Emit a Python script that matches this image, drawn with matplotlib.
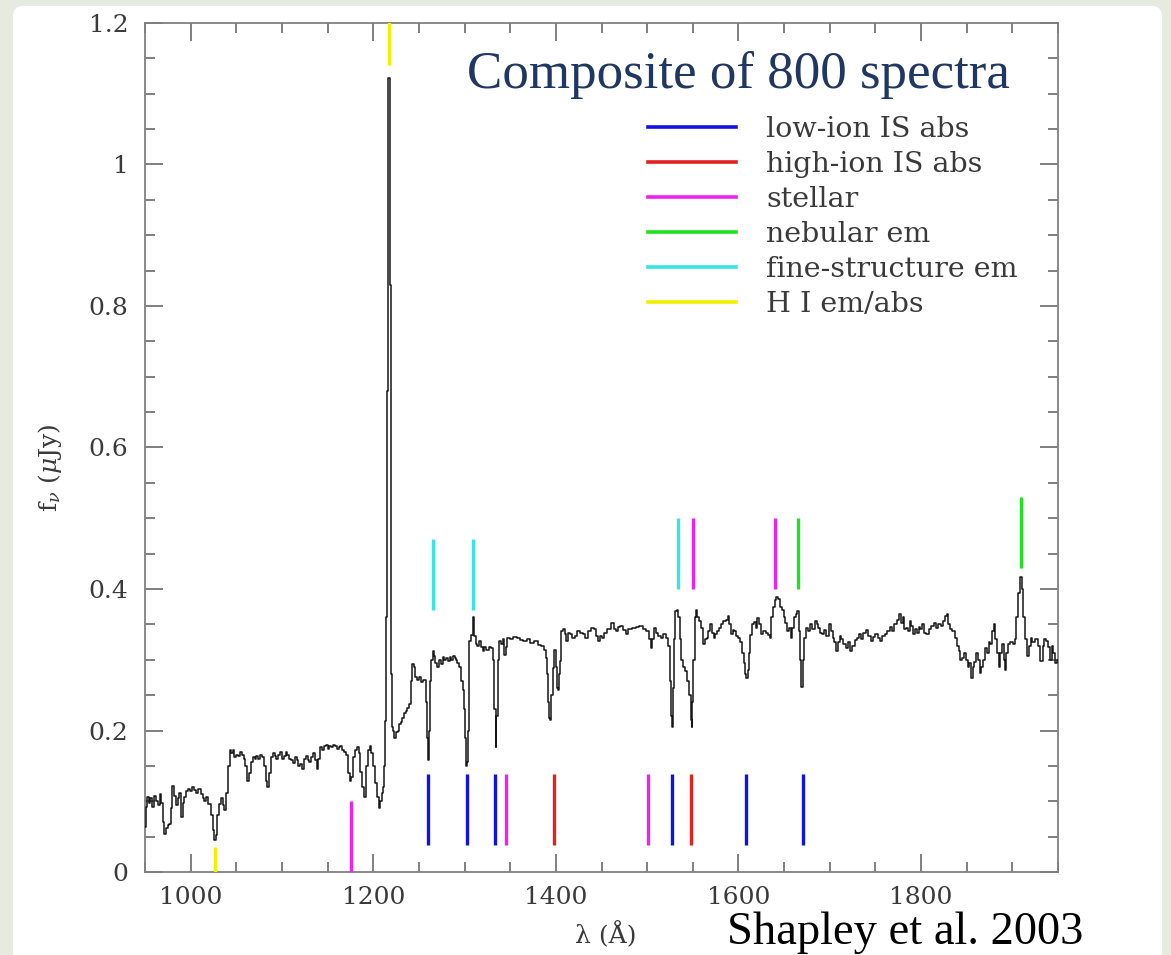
import matplotlib
matplotlib.use("Agg")
import matplotlib.pyplot as plt
from matplotlib.patches import FancyBboxPatch
from matplotlib.lines import Line2D
from matplotlib.ticker import MultipleLocator, FuncFormatter
from matplotlib.transforms import IdentityTransform

# ---------------------------------------------------------------------------
# Composite rest-frame UV spectrum (wavelength in Angstrom, f_nu in microJy)
# ---------------------------------------------------------------------------
lyman_side = [
    (950, 0.064), (951.5, 0.092), (953, 0.106), (955, 0.098), (957, 0.104),
    (959, 0.092), (961, 0.108), (963, 0.100), (965, 0.094), (967, 0.110),
    (968.5, 0.098), (970, 0.070), (972, 0.054), (974, 0.062), (976, 0.066),
    (977.5, 0.068), (979, 0.090), (981, 0.122), (983, 0.108), (984.7, 0.094),
    (986.5, 0.104), (988.3, 0.112), (990.2, 0.078), (992, 0.098), (994, 0.106),
    (995.6, 0.114), (998, 0.118), (1000, 0.114), (1003, 0.120), (1005, 0.116),
    (1007, 0.112), (1010, 0.118), (1012, 0.110), (1014, 0.104), (1015.7, 0.100),
    (1018, 0.106), (1021, 0.096), (1023, 0.080), (1025, 0.060), (1026.7, 0.045),
    (1028, 0.052), (1030, 0.080), (1032, 0.096), (1034, 0.104), (1036, 0.094),
    (1037.6, 0.087), (1040, 0.112), (1042, 0.150), (1043.5, 0.172),
]

forest = [
    (1045, 0.168), (1047, 0.172), (1049, 0.162), (1051, 0.166), (1053, 0.164),
    (1055, 0.170), (1057, 0.166), (1059, 0.160), (1061, 0.150), (1063, 0.128),
    (1065, 0.140), (1067, 0.156), (1069, 0.162), (1071, 0.160), (1073, 0.164),
    (1075, 0.160), (1077, 0.166), (1079, 0.162), (1081, 0.150), (1083, 0.128),
    (1085, 0.120), (1087, 0.140), (1089, 0.162), (1091, 0.168), (1093, 0.164),
    (1095, 0.160), (1097, 0.166), (1099, 0.170), (1101, 0.160), (1103, 0.164),
    (1105, 0.170), (1107, 0.166), (1109, 0.160), (1111, 0.158), (1113, 0.154),
    (1115, 0.162), (1117, 0.158), (1119, 0.150), (1121, 0.152), (1123, 0.146),
    (1125, 0.160), (1127, 0.164), (1129, 0.158), (1131, 0.156), (1133, 0.162),
    (1135, 0.168), (1137, 0.158), (1139, 0.146), (1141, 0.160), (1143, 0.176),
    (1145, 0.172), (1147, 0.178), (1149, 0.180), (1151, 0.174), (1153, 0.178),
    (1155, 0.176), (1157, 0.180), (1159, 0.178), (1161, 0.174), (1163, 0.176),
    (1165, 0.178), (1167, 0.172), (1169, 0.170), (1171, 0.166), (1173, 0.140),
    (1175, 0.128), (1177, 0.134), (1179, 0.162), (1181, 0.172), (1183, 0.176),
    (1185, 0.168), (1187, 0.142), (1189, 0.120), (1191, 0.106), (1193, 0.150),
    (1195, 0.172), (1197, 0.178), (1199, 0.168), (1201, 0.150), (1203, 0.126),
    (1205, 0.106), (1207, 0.090), (1208.5, 0.100), (1210, 0.112), (1211.5, 0.120),
]

lyman_alpha = [
    (1212.5, 0.150), (1213.5, 0.214), (1214.5, 0.360), (1215.5, 0.680),
    (1216.5, 1.122), (1218, 1.122), (1219, 0.830), (1220, 0.280), (1221, 0.205),
]

red_side_1 = [
    (1222, 0.200), (1223.8, 0.190), (1226, 0.198), (1228, 0.200), (1229.3, 0.209),
    (1231, 0.212), (1233, 0.218), (1235, 0.225), (1236.6, 0.228), (1238, 0.232),
    (1240.3, 0.238), (1242, 0.270), (1243.9, 0.294), (1245.5, 0.290), (1247, 0.276),
    (1249, 0.272), (1251, 0.276), (1253, 0.268), (1255, 0.272), (1256.7, 0.271),
    (1258, 0.240), (1259, 0.190), (1260.3, 0.158), (1261.5, 0.200), (1263, 0.270),
    (1264.5, 0.300), (1265.8, 0.313), (1267, 0.306), (1269, 0.296), (1271, 0.290),
    (1273, 0.300), (1275, 0.294), (1276.8, 0.304), (1279, 0.300), (1281, 0.302),
    (1283, 0.298), (1284.1, 0.304), (1286, 0.300), (1288, 0.306), (1290, 0.302),
    (1291.4, 0.300), (1293, 0.296), (1295, 0.290), (1297, 0.270), (1298.7, 0.257),
    (1300, 0.230), (1301, 0.190), (1302.3, 0.150), (1303.5, 0.155), (1304.5, 0.200),
    (1306, 0.327), (1308, 0.335), (1309.6, 0.360), (1311, 0.334), (1313.3, 0.322),
    (1315, 0.320), (1317, 0.326), (1319, 0.318), (1320.6, 0.313), (1323, 0.318),
    (1325, 0.314), (1327.9, 0.318), (1330, 0.316), (1332, 0.300), (1333.5, 0.230),
    (1334.4, 0.176), (1335.5, 0.220), (1337, 0.300), (1338.8, 0.327), (1341, 0.322),
    (1343, 0.330), (1344.4, 0.307), (1346, 0.318),
]

red_side_2 = [
    (1347.5, 0.331), (1351.3, 0.329), (1355, 0.332), (1359, 0.331), (1362, 0.328),
    (1366.6, 0.327), (1370, 0.330), (1374.3, 0.324), (1378, 0.326), (1382, 0.321),
    (1385.8, 0.319), (1388, 0.314), (1389.6, 0.302), (1391, 0.280), (1392.5, 0.240),
    (1393.5, 0.217), (1394.3, 0.215), (1395.5, 0.250), (1397.3, 0.288), (1399.2, 0.314),
    (1400.5, 0.290), (1401.5, 0.260), (1403.1, 0.257), (1404, 0.280), (1405, 0.298),
    (1406.9, 0.340), (1408.8, 0.343), (1410.5, 0.336), (1412.7, 0.326), (1414.5, 0.338),
    (1416.5, 0.336), (1419, 0.331), (1422.2, 0.333), (1425, 0.340), (1428, 0.338),
    (1431, 0.336), (1433.7, 0.331), (1436.5, 0.340), (1439.5, 0.345), (1443.3, 0.343),
    (1445, 0.334), (1447.2, 0.326), (1449, 0.333), (1451, 0.331), (1454.8, 0.338),
    (1458, 0.343), (1462.5, 0.352), (1464.5, 0.344), (1466.3, 0.340), (1469, 0.346),
    (1472.1, 0.348), (1475, 0.342), (1477.9, 0.336), (1481, 0.344), (1485.5, 0.345),
    (1489, 0.346), (1493.2, 0.348), (1497, 0.343), (1500.9, 0.340), (1503, 0.330),
    (1504.7, 0.317), (1506.5, 0.330), (1508.5, 0.345), (1511, 0.338), (1513.5, 0.334),
    (1516.2, 0.331), (1519, 0.336), (1522, 0.331), (1523.9, 0.320), (1525.2, 0.270),
    (1526.4, 0.220), (1527.2, 0.205), (1528.5, 0.260), (1530, 0.330), (1531.5, 0.369),
    (1533.5, 0.371), (1535, 0.360), (1536.1, 0.330), (1538.4, 0.300), (1541, 0.290),
    (1543, 0.284), (1545, 0.270), (1546.9, 0.250), (1548.3, 0.215), (1549, 0.205),
    (1550, 0.240), (1551.5, 0.300), (1553, 0.360), (1553.8, 0.371), (1555.5, 0.360),
    (1558.4, 0.355), (1560, 0.345), (1562.2, 0.322), (1564, 0.330), (1566.1, 0.331),
    (1568, 0.340), (1569.9, 0.350), (1572, 0.338), (1573.7, 0.331), (1575.5, 0.336),
    (1577.6, 0.340), (1580, 0.345), (1582, 0.350), (1585.2, 0.355), (1587, 0.356),
    (1589.1, 0.362), (1590.5, 0.350), (1592.9, 0.336), (1594.5, 0.342), (1596.7, 0.340),
    (1598.5, 0.334), (1600.6, 0.331), (1603, 0.325), (1605, 0.310), (1606.7, 0.295),
    (1608.2, 0.280), (1609.4, 0.274), (1610.5, 0.285), (1612.1, 0.310), (1614, 0.335),
    (1615.9, 0.350), (1618, 0.354), (1619.5, 0.345), (1621.7, 0.359), (1623.5, 0.350),
    (1625.5, 0.336), (1628, 0.340), (1631.3, 0.338), (1633, 0.335), (1635.1, 0.331),
    (1637, 0.360), (1639, 0.374), (1640.5, 0.385), (1642, 0.388), (1644, 0.386),
    (1646.6, 0.374), (1648.5, 0.370), (1650.5, 0.360), (1652.5, 0.352), (1654.3, 0.340),
    (1656, 0.345), (1658.1, 0.331), (1660, 0.345), (1662, 0.360), (1663.5, 0.365),
    (1665.8, 0.369), (1667, 0.340), (1668.5, 0.300), (1669.6, 0.262), (1671, 0.300),
    (1673.5, 0.331), (1675.5, 0.345), (1677.3, 0.340), (1680, 0.350), (1682, 0.344),
    (1684.9, 0.355), (1686.5, 0.350), (1688.8, 0.345), (1690.5, 0.338), (1692.6, 0.336),
    (1695, 0.342), (1697, 0.334),
]

red_side_3 = [
    (1700.3, 0.350), (1702, 0.340), (1704.1, 0.331), (1706, 0.325), (1708, 0.312),
    (1710, 0.325), (1711.5, 0.334), (1713.7, 0.329), (1716, 0.322), (1719.5, 0.317),
    (1721.5, 0.325), (1723.3, 0.312), (1726, 0.320), (1728.5, 0.328), (1731, 0.331),
    (1733, 0.336), (1735, 0.330), (1738.6, 0.338), (1741, 0.342), (1743.5, 0.334),
    (1746.3, 0.326), (1748, 0.332), (1751, 0.336), (1754, 0.331), (1756, 0.326),
    (1759, 0.334), (1761.6, 0.336), (1764, 0.340), (1767, 0.346), (1769.3, 0.340),
    (1772, 0.350), (1774.5, 0.356), (1777, 0.364), (1779, 0.352), (1780.8, 0.360),
    (1782.5, 0.344), (1784.7, 0.345), (1786.5, 0.340), (1788.5, 0.355), (1790.5, 0.348),
    (1792, 0.336), (1794.2, 0.343), (1796.5, 0.338), (1798, 0.346), (1800, 0.343),
    (1802, 0.350), (1804, 0.338), (1807.7, 0.336), (1810, 0.344), (1812.5, 0.348),
    (1815.3, 0.352), (1817.5, 0.345), (1820, 0.350), (1823, 0.348), (1825.5, 0.355),
    (1827, 0.362), (1828.8, 0.364), (1830.5, 0.350), (1832.6, 0.343), (1835, 0.340),
    (1838.3, 0.331), (1840, 0.320), (1842.2, 0.312), (1844, 0.300), (1846, 0.302),
    (1848, 0.310), (1850, 0.300), (1851.8, 0.290), (1853.5, 0.295), (1855.6, 0.274),
    (1857.5, 0.290), (1859.5, 0.297), (1861.5, 0.310), (1863, 0.300), (1865.2, 0.281),
    (1867, 0.290), (1869, 0.300), (1871, 0.317), (1873, 0.310), (1875, 0.325),
    (1876.7, 0.322), (1878.5, 0.340), (1880.5, 0.350), (1882.5, 0.330), (1884.4, 0.310),
    (1886, 0.290), (1888, 0.310), (1890.1, 0.322), (1891.5, 0.300), (1892.5, 0.285),
    (1893.5, 0.310), (1895.9, 0.322), (1899, 0.325), (1901.6, 0.322), (1903.5, 0.330),
    (1905.5, 0.360), (1907.5, 0.395), (1909.3, 0.417), (1911, 0.400), (1913.1, 0.360),
    (1915, 0.330), (1917, 0.305), (1919, 0.320), (1920.8, 0.331), (1923, 0.325),
    (1926.5, 0.329), (1929, 0.320), (1932.3, 0.298), (1934, 0.320), (1936, 0.330),
    (1938.1, 0.326), (1940, 0.318), (1942, 0.300), (1944, 0.320), (1946, 0.310),
    (1948, 0.296), (1950, 0.300),
]

# ---------------------------------------------------------------------------
# Line identifications: (wavelength, lower end of the marker in microJy)
# ---------------------------------------------------------------------------
low_ion_lines = [(1260.4, 0.038), (1302.5, 0.038), (1333.8, 0.038),
                 (1526.9, 0.038), (1608.5, 0.038), (1670.2, 0.038)]
high_ion_lines = [(1397.6, 0.038), (1548.0, 0.038)]
stellar_lines = [(1175.7, 0.0), (1345.5, 0.038), (1501.0, 0.038),
                 (1550.5, 0.40), (1640.4, 0.40)]
nebular_lines = [(1665.0, 0.40), (1909.0, 0.43)]
fine_structure_lines = [(1265.5, 0.37), (1309.5, 0.37), (1534.0, 0.40)]
hi_lines = [(1026.6, -0.065), (1217.5, 1.14)]
marker_length = 0.10

categories = ["low-ion IS abs", "high-ion IS abs", "stellar",
              "nebular em", "fine-structure em", "H I em/abs"]
category_lines = [low_ion_lines, high_ion_lines, stellar_lines,
                  nebular_lines, fine_structure_lines, hi_lines]
category_colors = ["#1212e4", "#e42020", "#ee22ee", "#22e022", "#38e4e4", "#f0f000"]

x_limits = (950, 1950)
y_limits = (0, 1.2)

# ---------------------------------------------------------------------------
W, H = 1171, 955
plt.rcParams["mathtext.fontset"] = "dejavuserif"
fig = plt.figure(figsize=(W / 100, H / 100), dpi=100, facecolor="#e6eadf")

panel = FancyBboxPatch((13, -30), 1149, 979,
                       boxstyle="round,pad=0,rounding_size=10",
                       transform=IdentityTransform(), facecolor="white",
                       edgecolor="none", zorder=-10)
fig.patches.append(panel)

ax = fig.add_axes([145 / W, 1 - 872 / H, (1058 - 145) / W, (872 - 23) / H])
ax.set_zorder(2)
ax.set_facecolor("white")

spectrum = lyman_side + forest + lyman_alpha + red_side_1 + red_side_2 + red_side_3
wavelength = [p[0] for p in spectrum]
flux = [p[1] for p in spectrum]
ax.plot(wavelength, flux, color="#151515", lw=1.1, drawstyle="steps-mid", zorder=3)

for lines, color in zip(category_lines, category_colors):
    xs = [l[0] for l in lines]
    lo = [l[1] for l in lines]
    hi = [l[1] + marker_length for l in lines]
    ax.vlines(xs, lo, hi, colors=color, lw=2.4, zorder=4)

ax.set_xlim(*x_limits)
ax.set_ylim(*y_limits)

axis_gray = "#808080"
for sp in ax.spines.values():
    sp.set_color(axis_gray)
    sp.set_linewidth(1.3)

ax.xaxis.set_major_locator(MultipleLocator(200))
ax.xaxis.set_minor_locator(MultipleLocator(50))
ax.yaxis.set_major_locator(MultipleLocator(0.2))
ax.yaxis.set_minor_locator(MultipleLocator(0.05))
ax.yaxis.set_major_formatter(FuncFormatter(lambda v, p: f"{v:g}"))
ax.tick_params(which="both", direction="in", top=True, right=True,
               color="#6a6a6a", width=1.2, labelcolor="#3a3a3a",
               labelsize=18)
ax.tick_params(which="major", length=13)
ax.tick_params(which="minor", length=7)
ax.tick_params(axis="x", pad=10)
ax.tick_params(axis="y", pad=12)
for lab in ax.get_xticklabels() + ax.get_yticklabels():
    lab.set_family("DejaVu Serif")

fig.text(606 / W, 1 - 935 / H, "λ (Å)", fontsize=18, color="#3a3a3a",
         family="DejaVu Serif", ha="center", va="center")
fig.text(50 / W, 1 - 468 / H, r"f$_\nu$ ($\mu$Jy)", fontsize=18, color="#3a3a3a",
         family="DejaVu Serif", rotation=90, ha="center", va="center")

handles = [Line2D([], [], color=c, lw=2.6) for c in category_colors]
leg = ax.legend(handles, categories, loc="upper left",
                bbox_to_anchor=(648 / W, 1 - 116 / H),
                bbox_transform=fig.transFigure, frameon=False,
                borderpad=0, borderaxespad=0, handlelength=3.1,
                handletextpad=1.05, labelspacing=0.28,
                prop={"family": "DejaVu Serif", "size": 20.5})
for t in leg.get_texts():
    t.set_color("#3a3a3a")

fig.text(467 / W, 1 - 75 / H, "Composite of 800 spectra", fontsize=38.2,
         family="Liberation Serif", color="#1f3762", ha="left", va="center")
fig.text(727 / W, 1 - 933 / H, "Shapley et al. 2003", fontsize=33.5,
         family="Liberation Serif", color="black", ha="left", va="center")

fig.savefig("out.png", dpi=100, facecolor=fig.get_facecolor())
